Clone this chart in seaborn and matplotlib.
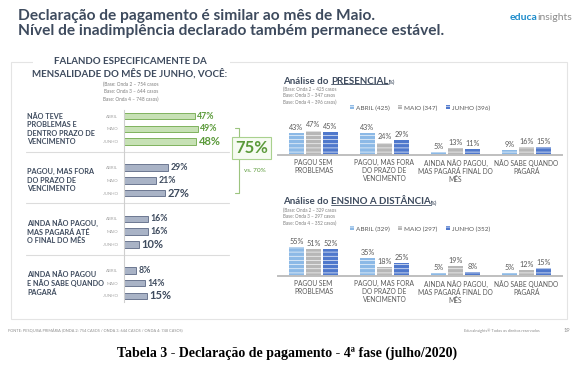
import matplotlib
matplotlib.use("Agg")
import matplotlib.pyplot as plt
from matplotlib.lines import Line2D
from matplotlib.patches import Rectangle
import pandas as pd
import seaborn as sns

W, H = 574, 378

# ---- data ----
months = ["ABRIL", "MAIO", "JUNHO"]

left_labels = [
    "NÃO TEVE\nPROBLEMAS E\nDENTRO PRAZO DE\nVENCIMENTO",
    "PAGOU, MAS FORA\nDO PRAZO DE\nVENCIMENTO",
    "AINDA NÃO PAGOU,\nMAS PAGARÁ ATÉ\nO FINAL DO MÊS",
    "AINDA NÃO PAGOU\nE NÃO SABE QUANDO\nPAGARÁ",
]
sem_problemas = [47, 49, 48]
fora_prazo = [29, 21, 27]
ate_final = [16, 16, 10]
nao_sabe = [8, 14, 15]

right_cats = [
    "PAGOU SEM\nPROBLEMAS",
    "PAGOU, MAS FORA\nDO PRAZO DE\nVENCIMENTO",
    "AINDA NÃO PAGOU,\nMAS PAGARÁ FINAL DO\nMÊS",
    "NÃO SABE QUANDO\nPAGARÁ",
]
pres_abril = [43, 43, 5, 9]
pres_maio = [47, 24, 13, 16]
pres_junho = [45, 29, 11, 15]
pres_n = [425, 347, 396]

ead_abril = [55, 35, 5, 5]
ead_maio = [51, 18, 19, 12]
ead_junho = [52, 25, 8, 15]
ead_n = [329, 297, 352]

# ---- style ----
sns.set_style("white")
plt.rcParams["font.family"] = ["Lato", "DejaVu Sans"]
plt.rcParams["hatch.color"] = "white"
plt.rcParams["hatch.linewidth"] = 0.45

DARK = "#3e4b5e"
GRAY = "#595959"
GREEN = "#5b9a3a"
bar_colors = {"ABRIL": "#8cb9e6", "MAIO": "#b7b7b7", "JUNHO": "#4f78cc"}


def px(x, y):
    return x / W, 1 - y / H


def ax_rect(x0, y0, x1, y1):
    return [x0 / W, 1 - y1 / H, (x1 - x0) / W, (y1 - y0) / H]


fig = plt.figure(figsize=(W / 100, H / 100), dpi=100)
fig.patch.set_facecolor("white")

# outer panel border, broken by the left header
fig.add_artist(Rectangle(px(11, 319), (567 - 11) / W, (319 - 62) / H,
                         transform=fig.transFigure, fill=False,
                         ec="#e4e4e4", lw=0.8))
fig.add_artist(Rectangle(px(33, 66), (230 - 33) / W, 8 / H,
                         transform=fig.transFigure, fc="white", ec="none"))

# ---- titles ----
fig.text(*px(18, 16), "Declaração de pagamento é similar ao mês de Maio.",
         fontsize=11.2, fontweight="bold", color=DARK, va="center")
fig.text(*px(18, 31), "Nível de inadimplência declarado também permanece estável.",
         fontsize=11.2, fontweight="bold", color=DARK, va="center")

fig.text(*px(130, 62), "FALANDO ESPECIFICAMENTE DA", fontsize=7,
         fontweight="bold", color=DARK, ha="center", va="center")
fig.text(*px(130, 73), "MENSALIDADE DO MÊS DE JUNHO, VOCÊ:", fontsize=7,
         fontweight="bold", color=DARK, ha="center", va="center")
for i, line in enumerate(["(Base: Onda 2 – 754 casos", "Base: Onda 3 – 644 casos",
                          "Base: Onda 4 – 748 casos)"]):
    fig.text(*px(131, 84 + 7.5 * i), line, fontsize=3.4, color="#7f7f7f",
             ha="center", va="center")

# ---- left horizontal bars ----
groups = [sem_problemas, fora_prazo, ate_final, nao_sabe]
rows, order = [], []
for g, vals in enumerate(groups):
    for m, v in zip(months, vals):
        key = f"{m}_{g}"
        order.append(key)
        rows.append({"row": key, "value": v, "group": g, "month": m})
    if g < len(groups) - 1:
        order.append(f"sp{g}")
df_left = pd.DataFrame(rows)

axL = fig.add_axes(ax_rect(124, 109.6, 229, 302.4))
sns.barplot(data=df_left[df_left.group == 0], x="value", y="row", order=order,
            orient="h", color="#c7e1b5", edgecolor="#7fb35e", linewidth=0.7,
            width=0.52, saturation=1, ax=axL)
sns.barplot(data=df_left[df_left.group > 0], x="value", y="row", order=order,
            orient="h", color="#a9b3c6", edgecolor="#6c7891", linewidth=0.7,
            width=0.52, saturation=1, ax=axL)
axL.set_xlim(0, 70)
axL.set_ylim(len(order) - 0.5, -0.5)
axL.set_xlabel("")
axL.set_ylabel("")
axL.set_xticks([])
pos = [order.index(r) for r in df_left.row]
axL.set_yticks(pos)
axL.set_yticklabels(df_left.month, fontsize=3.2, color="#a6a6a6")
axL.tick_params(axis="y", length=0, pad=4)
for s in ["top", "right", "bottom"]:
    axL.spines[s].set_visible(False)
axL.spines["left"].set_color("#cfcfcf")
axL.spines["left"].set_linewidth(0.8)

for p, r in zip(pos, df_left.itertuples()):
    big = r.month == "JUNHO"
    axL.text(r.value + 1.8, p, f"{r.value}%", va="center",
             fontsize=8 if big else 6.3, fontweight="bold",
             color=GREEN if r.group == 0 else DARK)

for g in range(len(groups) - 1):
    axL.axhline(order.index(f"sp{g}") - 0.2, xmin=-0.93, xmax=1.0,
                color="#dcdcdc", lw=0.8, clip_on=False)

for g, lab in enumerate(left_labels):
    mid = order.index(f"MAIO_{g}")
    axL.text(-64.5, mid, lab, fontsize=5.2, fontweight="bold", color=DARK,
             va="center", ha="left", linespacing=1.25)

# 75% bracket
fig.add_artist(Line2D([fx / W for fx in (235, 239, 239, 235)],
                      [1 - fy / H for fy in (128, 128, 193, 193)],
                      color="#9cc47f", lw=0.8))
fig.text(*px(251.5, 148), "75%", fontsize=12, fontweight="bold", color=GREEN,
         ha="center", va="center",
         bbox=dict(boxstyle="square,pad=0.2", fc="#f6fbf2", ec="#a9d18e", lw=0.8))
fig.text(*px(255, 171), "vs. 70%", fontsize=4.6, color=GREEN, ha="center",
         va="center")


# ---- right vertical bars ----
def right_chart(a, m, j, counts, top, base, name):
    df = pd.DataFrame({
        "cat": right_cats * 3,
        "month": [mm for mm in months for _ in right_cats],
        "value": a + m + j,
    })
    ax = fig.add_axes(ax_rect(278, base - 60 * 0.52, 562, base))
    sns.barplot(data=df, x="cat", y="value", hue="month", hue_order=months,
                order=right_cats, palette=bar_colors, width=0.72, gap=0.15,
                saturation=1, edgecolor="white", linewidth=0, hatch="----",
                ax=ax)
    ax.set_ylim(0, 60)
    ax.set_xlim(-0.5, 3.5)
    ax.set_xlabel("")
    ax.set_ylabel("")
    ax.set_yticks([])
    ax.tick_params(axis="x", length=0, pad=3, labelsize=4.8, labelcolor=GRAY)
    for lab in ax.get_xticklabels():
        lab.set_linespacing(1.15)
    for s in ["top", "right", "left"]:
        ax.spines[s].set_visible(False)
    ax.spines["bottom"].set_color("#bfbfbf")
    ax.spines["bottom"].set_linewidth(1.4)
    for cont, vals in zip(ax.containers, (a, m, j)):
        ax.bar_label(cont, labels=[f"{v}%" for v in vals], padding=1.5,
                     fontsize=5.2, color=GRAY)
    handles, _ = ax.get_legend_handles_labels()
    ax.legend(handles, [f"{mm} ({n})" for mm, n in zip(months, counts)],
              loc="center", bbox_to_anchor=px(420, top + 27),
              bbox_transform=fig.transFigure, ncol=3, frameon=False,
              fontsize=4.6, handlelength=0.6, handleheight=0.6,
              columnspacing=1.3, handletextpad=0.35, labelcolor=GRAY)

    # title with underlined part
    fig.canvas.draw()
    rend = fig.canvas.get_renderer()
    t1 = fig.text(*px(283, top), "Análise do ", fontsize=7, fontweight="bold",
                  color=DARK, va="center")
    b1 = t1.get_window_extent(rend)
    t2 = fig.text(b1.x1 / W, 1 - top / H, name, fontsize=7, fontweight="bold",
                  color=DARK, va="center")
    b2 = t2.get_window_extent(rend)
    fig.add_artist(Line2D([b2.x0 / W, b2.x1 / W], [(b2.y0 + 1.2) / H] * 2,
                          color=DARK, lw=0.6))
    fig.text(b2.x1 / W + 0.001, 1 - (top + 1) / H, "(%)", fontsize=3.3,
             fontweight="bold", color=DARK, va="center")
    bases = [f"(Base: Onda 2 – {counts[0]} casos", f"Base: Onda 3 – {counts[1]} casos",
             f"Base: Onda 4 – {counts[2]} casos)"]
    for i, line in enumerate(bases):
        fig.text(*px(283, top + 8 + 6.5 * i), line, fontsize=3.3,
                 color="#7f7f7f", va="center")
    return ax


right_chart(pres_abril, pres_maio, pres_junho, pres_n, 81, 155, "PRESENCIAL")
right_chart(ead_abril, ead_maio, ead_junho, ead_n, 202, 276, "ENSINO A DISTÂNCIA")

# ---- logo ----
fig.canvas.draw()
rend = fig.canvas.get_renderer()
lg = fig.text(*px(510, 18), "educa", fontsize=7.5, fontweight="bold",
              color="#1d8ccb", va="center")
bl = lg.get_window_extent(rend)
fig.text(bl.x1 / W, 1 - 18 / H, "insights", fontsize=7.5, color="#8c8c8c",
         va="center")

# ---- footer ----
fig.text(*px(8, 331), "FONTE: PESQUISA PRIMÁRIA (ONDA 2: 754 CASOS / ONDA 3: 644 CASOS / ONDA 4: 748 CASOS)",
         fontsize=2.8, color="#8c8c8c", va="center")
fig.text(*px(540, 331), "EducaInsights® Todos os direitos reservados",
         fontsize=2.8, color="#8c8c8c", va="center", ha="right")
fig.text(*px(567, 330), "19", fontsize=4.2, color="#8c8c8c", va="center",
         ha="center")

fig.text(*px(287, 353), "Tabela 3 - Declaração de pagamento - 4ª fase (julho/2020)",
         fontsize=10, fontweight="bold", family="Liberation Serif",
         color="black", ha="center", va="center")

fig.savefig("out.png", dpi=100)
